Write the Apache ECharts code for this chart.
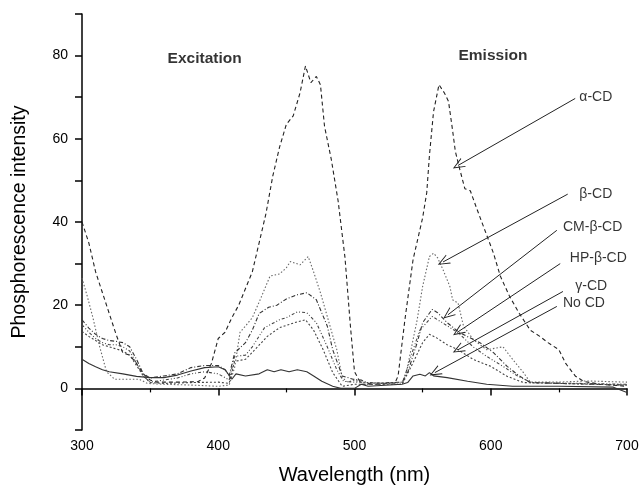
<!DOCTYPE html>
<html>
<head>
<meta charset="utf-8">
<script src="https://cdn.jsdelivr.net/npm/echarts@6/dist/echarts.min.js"></script>
<style>
  html, body { margin: 0; padding: 0; background: #fff; }
  #chart { width: 642px; height: 490px; }
</style>
</head>
<body>
<div id="chart"></div>
<script>
// [wavelength nm, intensity]
const alphaCD = [
  [300, 40], [305, 35], [310, 28], [315, 23], [320, 18], [325, 13], [330, 8.5], [335, 8], [340, 6],
  [345, 3.5], [350, 2], [355, 1.5], [370, 1.5], [385, 1.6], [390, 2.5], [395, 6], [400, 12],
  [405, 13.5], [410, 17], [415, 20], [420, 24], [425, 28], [430, 35], [435, 42], [440, 51],
  [445, 58], [450, 63.5], [455, 65.5], [460, 71], [464, 77.5], [468, 73.5], [472, 75], [475, 73],
  [478, 63], [483, 55], [488, 45], [493, 31.5], [497, 15], [500, 4], [505, 1], [520, 1],
  [530, 1.5], [532, 3], [537, 16.5], [543, 31], [550, 41], [553, 47], [555, 56], [558, 66.5],
  [562, 73], [566, 71], [569, 69], [572, 62], [574, 57], [577, 53], [581, 48], [585, 47.5],
  [590, 43], [594, 39.5], [602, 32.5], [607, 27], [614, 22], [621, 18], [629, 14], [636, 12.5],
  [642, 11], [650, 9.3], [655, 6], [662, 3], [668, 1.7], [680, 1], [700, 0.5]
]
const betaCD = [
  [300, 26.5], [304, 22], [308, 17], [313, 10], [318, 4], [324, 2.2], [342, 2.2], [348, 1.2],
  [360, 1], [380, 0.8], [400, 0.5], [408, 0.8], [412, 5], [416, 13.5], [420, 15], [425, 17],
  [431, 21.5], [438, 27], [445, 27.5], [450, 29], [453, 30.5], [460, 29.7], [466, 31.7],
  [470, 28], [475, 23], [480, 17.3], [487, 9.3], [491, 2.6], [495, 1.5], [500, 2], [505, 1.5],
  [520, 1.2], [535, 1.5], [538, 3.8], [546, 16.5], [550, 24.5], [555, 31.7], [558, 32.5],
  [561, 31.4], [565, 28.5], [570, 24.5], [572, 21.3], [576, 20.5], [580, 15], [587, 11.8],
  [597, 9.3], [609, 10], [616, 7], [624, 3.8], [629, 1.5], [650, 1.5], [670, 1.8], [700, 1.5]
]
const cmBetaCD = [
  [300, 16.5], [305, 14.5], [310, 13], [315, 12], [320, 11.5], [325, 11.3], [330, 11], [335, 10],
  [340, 7], [345, 3.5], [350, 2.5], [360, 3], [370, 3.5], [380, 5], [390, 5.5], [400, 5.5],
  [405, 4.5], [408, 3], [412, 8.5], [420, 11], [425, 14], [430, 18], [437, 19.5], [443, 20],
  [450, 21.5], [458, 22.5], [465, 23], [472, 21.3], [480, 15], [484, 9.3], [491, 3], [499, 2.2],
  [505, 2], [510, 1.2], [535, 1.5], [539, 3.8], [546, 11], [550, 15.8], [557, 19], [561, 18.2],
  [568, 15.8], [577, 13.4], [592, 11], [602, 8.6], [612, 5.3], [621, 3], [629, 1.4], [650, 1.2],
  [700, 0.8]
]
const hpBetaCD = [
  [300, 15.3], [305, 13.5], [310, 12], [315, 11], [320, 10.5], [325, 10.5], [330, 10], [335, 9],
  [340, 6], [345, 3], [350, 1.5], [360, 2], [370, 2.5], [380, 3.5], [390, 4], [400, 3.5],
  [408, 2], [412, 7.7], [420, 8], [425, 10], [434, 14.6], [445, 16.5], [450, 17], [458, 18.4],
  [465, 18.2], [472, 15.8], [480, 10], [487, 4.5], [492, 1.7], [500, 1.5], [505, 1.5], [535, 1],
  [543, 9.3], [548, 14], [557, 17.3], [561, 16.5], [576, 13.4], [587, 10], [597, 7.7],
  [609, 5.3], [620, 2.9], [630, 1.4], [700, 1]
]
const gammaCD = [
  [300, 13.7], [305, 12.5], [310, 11.5], [315, 10.5], [320, 10], [325, 9.5], [330, 9], [335, 8],
  [340, 5.5], [345, 3], [350, 1.4], [360, 1.2], [380, 1.4], [400, 1.5], [408, 1.2], [412, 6.5],
  [420, 7], [426, 9], [436, 12.5], [445, 14.6], [456, 15.8], [464, 16.5], [470, 14], [477, 9.3],
  [484, 3.8], [491, 0.5], [500, 1], [505, 1], [535, 1], [543, 6.2], [550, 11], [555, 13],
  [560, 12.2], [568, 10.5], [576, 9.3], [587, 7], [600, 5.3], [612, 2.9], [624, 1.4], [700, 0.8]
]
const noCD = [
  [300, 7], [305, 6], [310, 5.2], [315, 4.5], [320, 4], [330, 3.5], [340, 2.9], [350, 2.6],
  [360, 2.6], [370, 3.2], [380, 4.2], [390, 5], [400, 5.2], [405, 4.5], [410, 2.2], [413, 3.5],
  [420, 3], [430, 3.5], [436, 4.5], [441, 4], [446, 4.5], [452, 4], [458, 4.5], [465, 4],
  [470, 3], [476, 1.7], [484, 0.5], [490, 0], [500, 0], [505, 1], [510, 0.5], [535, 1],
  [539, 1.4], [543, 3], [548, 3.4], [552, 3], [555, 3.8], [558, 3], [568, 2.6], [583, 1.7],
  [597, 1], [616, 0.5], [650, 0.5], [690, 0.3], [700, -1]
]

// annotation labels: [x, y, text] at left edge of text, arrows from [x1, y1] to [x2, y2]
const noteLabels = [
  [665, 70, 'α-CD'], [665, 46.7, 'β-CD'], [653, 38.8, 'CM-β-CD'],
  [658, 31.3, 'HP-β-CD'], [662, 24.5, 'γ-CD'], [653, 20.4, 'No CD']
]
const noteArrows = [
  [[662, 69.7], [576, 53.6]],
  [[656.5, 46.7], [565, 30.4]],
  [[648.5, 38], [568.6, 17.7]],
  [[651, 30], [576, 13.6]],
  [[653, 23.3], [576, 9.3]],
  [[648.5, 19.7], [559, 3.8]]
]
const headings = [[390, 79.3, 'Excitation'], [601.6, 80, 'Emission']]

const font = 'Liberation Sans, Arial, sans-serif'
const openArrow = 'path://M0,10 L5,0 L10,10 L9,10 L5,2 L1,10 Z'

function curve(name, data, type, color) {
  return {
    name,
    type: 'line',
    data,
    symbol: 'none',
    silent: true,
    lineStyle: { width: 1.1, color, type },
  }
}

const chart = echarts.init(document.getElementById('chart'))
chart.setOption({
  animation: false,
  grid: { left: 82, right: 15, top: 14, bottom: 58 },
  xAxis: {
    type: 'value',
    min: 300,
    max: 700,
    interval: 100,
    name: 'Wavelength (nm)',
    nameLocation: 'middle',
    nameGap: 35,
    nameTextStyle: { fontFamily: font, fontSize: 20, color: '#000' },
    axisLine: { lineStyle: { color: '#000', width: 1.5 } },
    axisTick: { length: 7, lineStyle: { color: '#000', width: 1.5 } },
    minorTick: { show: true, splitNumber: 2, length: 4, lineStyle: { color: '#000', width: 1.2 } },
    splitLine: { show: false },
    axisLabel: { fontFamily: font, fontSize: 14, color: '#000', margin: 9 },
  },
  yAxis: {
    type: 'value',
    min: -10,
    max: 90,
    interval: 10,
    name: 'Phosphorescence intensity',
    nameLocation: 'middle',
    nameGap: 52,
    nameTextStyle: { fontFamily: font, fontSize: 19.5, color: '#000' },
    axisLine: { show: true, lineStyle: { color: '#000', width: 1.5 } },
    axisTick: { show: true, length: 7, lineStyle: { color: '#000', width: 1.5 } },
    splitLine: { show: false },
    axisLabel: {
      fontFamily: font,
      fontSize: 14,
      color: '#000',
      margin: 14,
      formatter: (v) => (v >= 0 && v <= 80 && v % 20 === 0 ? String(v) : ''),
    },
  },
  series: [
    curve('α-CD', alphaCD, [4, 3], '#222'),
    curve('β-CD', betaCD, [1.5, 2], '#666'),
    curve('CM-β-CD', cmBetaCD, [4, 2, 1, 2], '#333'),
    curve('HP-β-CD', hpBetaCD, [3, 2, 1, 2, 1, 2], '#444'),
    curve('γ-CD', gammaCD, [2, 2], '#444'),
    curve('No CD', noCD, 'solid', '#333'),
    {
      name: 'notes',
      type: 'scatter',
      silent: true,
      symbolSize: 0,
      data: noteLabels,
      label: {
        show: true,
        position: 'right',
        distance: 0,
        formatter: (p) => p.data[2],
        fontFamily: font,
        fontSize: 14,
        color: '#000',
      },
      markLine: {
        silent: true,
        symbol: ['none', openArrow],
        symbolSize: [10, 12],
        label: { show: false },
        lineStyle: { color: '#222', width: 1, type: 'solid' },
        data: noteArrows.map(([a, b]) => [{ coord: a }, { coord: b }]),
      },
    },
    {
      name: 'headings',
      type: 'scatter',
      silent: true,
      symbolSize: 0,
      data: headings,
      label: {
        show: true,
        position: 'inside',
        formatter: (p) => p.data[2],
        fontFamily: font,
        fontSize: 15.5,
        fontWeight: 'bold',
        color: '#000',
      },
    },
  ],
})
</script>
</body>
</html>
